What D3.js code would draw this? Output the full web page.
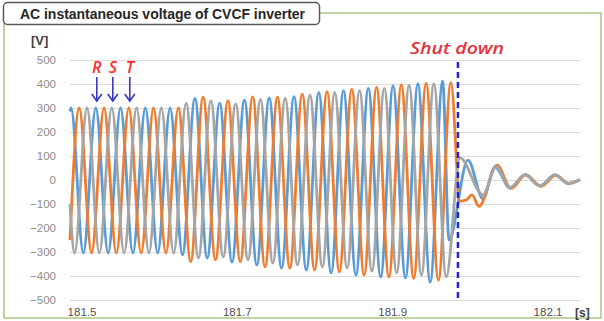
<!DOCTYPE html>
<html>
<head>
<meta charset="utf-8">
<script src="https://cdn.jsdelivr.net/npm/d3@7"></script>
<style>
body { margin: 0; background: #fff; }
svg { display: block; }
</style>
</head>
<body>
<svg id="chart" width="604" height="321"></svg>
<script>
var width = 604;
var height = 321;

var titleText = "AC instantaneous voltage of CVCF inverter";
var timeTicks = [181.5, 181.7, 181.9, 182.1];
var voltTicks = [-500, -400, -300, -200, -100, 0, 100, 200, 300, 400, 500];
var shutdownTime = 181.9847;

// phase R (blue) - extremes
var rTime = [181.4852, 181.4865, 181.5024, 181.5184, 181.5343, 181.5503, 181.5662, 181.5822, 181.5981, 181.6141,
  181.6300, 181.6460, 181.6619, 181.6779, 181.6938, 181.7098, 181.7257, 181.7417, 181.7576, 181.7736,
  181.7895, 181.8055, 181.8214, 181.8374, 181.8533, 181.8693, 181.8852, 181.9012, 181.9171, 181.9331,
  181.9490, 181.9650, 181.9732, 181.9976, 182.0169, 182.0324, 182.0517, 182.0710, 182.0903, 182.1096,
  182.1264, 182.1418];
var rVolt = [285, 300, -305, 300, -305, 300, -305, 300, -305, 300,
  -312, 340, -325, 320, -342, 333, -354, 342, -367, 347,
  -375, 364, -387, 372, -396, 382, -404, 392, -408, 400,
  -425, 412, -250, 83, -78, 54, -33, 21, -25, 21,
  -14, 0];

// phase S (gray)
var sTime = [181.4852, 181.4911, 181.5071, 181.5230, 181.5390, 181.5549, 181.5709, 181.5868, 181.6028, 181.6187,
  181.6347, 181.6506, 181.6666, 181.6825, 181.6985, 181.7144, 181.7304, 181.7463, 181.7623, 181.7782,
  181.7942, 181.8101, 181.8261, 181.8420, 181.8580, 181.8739, 181.8899, 181.9058, 181.9218, 181.9377,
  181.9537, 181.9696, 181.9873, 182.0169, 182.0337, 182.0517, 182.0710, 182.0903, 182.1096, 182.1264,
  182.1418];
var sVolt = [-100, -305, 300, -305, 300, -305, 300, -305, 300, -305,
  320, -325, 330, -320, 317, -333, 335, -346, 340, -354,
  354, -362, 364, -367, 372, -380, 382, -387, 394, -396,
  400, -404, 92, -62, 56, -32, 22, -24, 21, -14,
  1];

// phase T (orange)
var tTime = [181.4852, 181.4971, 181.5130, 181.5290, 181.5449, 181.5609, 181.5768, 181.5928, 181.6087, 181.6247,
  181.6406, 181.6566, 181.6725, 181.6885, 181.7044, 181.7204, 181.7363, 181.7523, 181.7682, 181.7842,
  181.8001, 181.8161, 181.8320, 181.8480, 181.8639, 181.8799, 181.8958, 181.9118, 181.9277, 181.9437,
  181.9596, 181.9756, 181.9873, 181.9950, 182.0028, 182.0118, 182.0350, 182.0530, 182.0723, 182.0916,
  182.1109, 182.1277, 182.1418];
var tVolt = [-250, 300, -305, 300, -305, 300, -305, 300, -305, 300,
  -340, 345, -333, 330, -340, 346, -362, 345, -367, 358,
  -375, 368, -383, 378, -396, 386, -404, 396, -410, 403,
  -417, 406, -88, -84, -62, -110, 62, -35, 22, -26,
  20, -15, 2];

var svg = d3.select("#chart");

var x = d3.scaleLinear().domain([181.5, 182.1]).range([81.5, 547.5]);
var y = d3.scaleLinear().domain([-500, 500]).range([300, 60]);
var plotLeft = 70, plotRight = 580;

// green outer frame
svg.append("rect")
  .attr("x", 4).attr("y", 13).attr("width", 597).attr("height", 305)
  .attr("fill", "none").attr("stroke", "#a9c783").attr("stroke-width", 1.5);

// title box
svg.append("rect")
  .attr("x", 3.5).attr("y", 2.5).attr("width", 316).attr("height", 22).attr("rx", 4)
  .attr("fill", "#fff").attr("stroke", "#595959").attr("stroke-width", 1.5);
svg.append("text")
  .attr("x", 20).attr("y", 19)
  .attr("textLength", 285).attr("lengthAdjust", "spacing")
  .style("font-family", "'Liberation Sans', Arial, sans-serif")
  .style("font-size", "14px").style("font-weight", "bold")
  .attr("fill", "#262626")
  .text(titleText);

// gridlines
var grid = svg.append("g")
  .attr("transform", "translate(" + plotLeft + ",0)")
  .call(d3.axisLeft(y).tickValues(voltTicks).tickSize(-(plotRight - plotLeft)).tickFormat(""));
grid.select(".domain").remove();
grid.selectAll("line").attr("stroke", "#dcdcdc").attr("stroke-width", 1);

// y labels
var yAxis = svg.append("g")
  .attr("transform", "translate(56,0)")
  .call(d3.axisLeft(y).tickValues(voltTicks).tickSize(0).tickPadding(0));
yAxis.select(".domain").remove();
yAxis.selectAll("text")
  .style("font-family", "'Liberation Sans', Arial, sans-serif")
  .style("font-size", "11.5px").attr("fill", "#8c8c8c");

svg.append("text")
  .attr("x", 31).attr("y", 45)
  .style("font-family", "'Liberation Sans', Arial, sans-serif")
  .style("font-size", "13px").style("font-weight", "bold")
  .attr("fill", "#404040").text("[V]");

// x labels
var xAxis = svg.append("g")
  .attr("transform", "translate(0,302)")
  .call(d3.axisBottom(x).tickValues(timeTicks).tickFormat(d3.format(".1f")).tickSize(0).tickPadding(6));
xAxis.select(".domain").remove();
xAxis.selectAll("text")
  .style("font-family", "'Liberation Sans', Arial, sans-serif")
  .style("font-size", "11.5px").attr("fill", "#505050");

svg.append("text")
  .attr("x", 575).attr("y", 317)
  .style("font-family", "'Liberation Sans', Arial, sans-serif")
  .style("font-size", "12px").style("font-weight", "bold")
  .attr("fill", "#404040").text("[s]");

// waves
var line = d3.line()
  .x(function(d) { return x(d[0]); })
  .y(function(d) { return y(d[1]); })
  .curve(d3.curveMonotoneX);

var series = [
  { name: "R", data: d3.zip(rTime, rVolt), color: "#5b9bd5" },
  { name: "T", data: d3.zip(tTime, tVolt), color: "#ed7d31" },
  { name: "S", data: d3.zip(sTime, sVolt), color: "#a5a5a5" }
];

svg.append("g").selectAll("path")
  .data(series)
  .enter().append("path")
  .attr("d", function(d) { return line(d.data); })
  .attr("fill", "none")
  .attr("stroke", function(d) { return d.color; })
  .attr("stroke-width", 2.8)
  .attr("stroke-linejoin", "round");

// shutdown marker
svg.append("line")
  .attr("x1", x(shutdownTime)).attr("x2", x(shutdownTime))
  .attr("y1", 62).attr("y2", 302)
  .attr("stroke", "#2525cf").attr("stroke-width", 2.5)
  .attr("stroke-dasharray", "6,4");

svg.append("text")
  .attr("x", x(shutdownTime) - 1).attr("y", 54)
  .attr("text-anchor", "middle")
  .attr("textLength", 94).attr("lengthAdjust", "spacingAndGlyphs")
  .style("font-family", "'Open Sans', 'Liberation Sans', sans-serif")
  .style("font-size", "16px").style("font-style", "italic").style("font-weight", "600")
  .attr("fill", "#e5333c").text("Shut down");

// R S T arrows over their peaks
var phaseMarks = [
  { label: "R", t: rTime[3] },
  { label: "S", t: sTime[4] },
  { label: "T", t: tTime[5] }
];

var marks = svg.append("g").selectAll("g")
  .data(phaseMarks)
  .enter().append("g")
  .attr("transform", function(d) { return "translate(" + (x(d.t) + 1) + ",0)"; });

marks.append("text")
  .attr("y", 73).attr("text-anchor", "middle")
  .style("font-family", "'Open Sans', 'Liberation Sans', sans-serif")
  .style("font-size", "16px").style("font-style", "italic").style("font-weight", "600")
  .attr("fill", "#ff2a2a")
  .text(function(d) { return d.label; });

marks.append("line")
  .attr("x1", 0).attr("x2", 0).attr("y1", 77).attr("y2", 101)
  .attr("stroke", "#3636c8").attr("stroke-width", 1.6);

marks.append("path")
  .attr("d", "M-5,94 L0,101 L5,94")
  .attr("fill", "none")
  .attr("stroke", "#3636c8").attr("stroke-width", 1.6);
</script>
</body>
</html>
